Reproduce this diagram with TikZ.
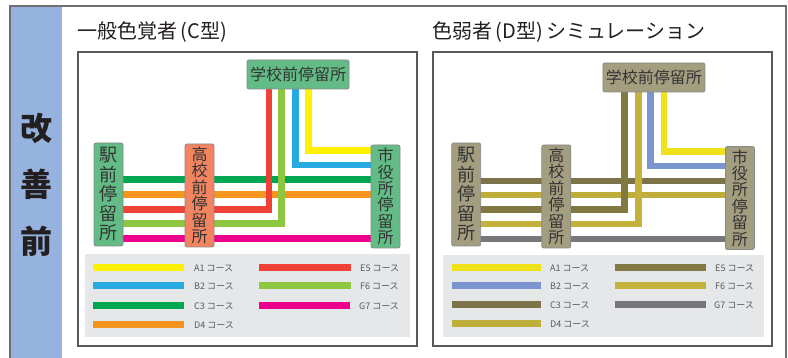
\documentclass[tikz,border=0pt]{standalone}
\usepackage{fontspec}
\setmainfont{Noto Sans CJK JP}
\definecolor{framegray}{HTML}{6D6E71}
\definecolor{panelgray}{HTML}{58595B}
\definecolor{band}{HTML}{95B3DE}
\definecolor{ngreen}{HTML}{63BC85}
\definecolor{nsalmon}{HTML}{F28462}
\definecolor{nkhaki}{HTML}{A39E80}
\definecolor{nborder}{HTML}{8A8A8A}
\definecolor{txt}{HTML}{231F20}
\definecolor{ntxt}{HTML}{333333}
\definecolor{legbg}{HTML}{E6E7E8}
\definecolor{legtxt}{HTML}{58595B}
% C-type
\definecolor{cA}{HTML}{FFF200}
\definecolor{cB}{HTML}{27AAE1}
\definecolor{cC}{HTML}{00A650}
\definecolor{cD}{HTML}{F7941D}
\definecolor{cE}{HTML}{EF4136}
\definecolor{cF}{HTML}{8DC63F}
\definecolor{cG}{HTML}{EC008C}
% D-type
\definecolor{dA}{HTML}{F0E21A}
\definecolor{dB}{HTML}{7A95D0}
\definecolor{dC}{HTML}{7C7349}
\definecolor{dD}{HTML}{BFAF3A}
\definecolor{dE}{HTML}{817842}
\definecolor{dF}{HTML}{C4B23C}
\definecolor{dG}{HTML}{77777B}
\tikzset{
  stopbox/.style={draw=nborder, line width=0.8pt, rounded corners=2pt, inner sep=0pt, text=ntxt, align=center},
  hstop/.style={stopbox, minimum width=102pt, minimum height=29pt, font=\fontsize{16}{16}\selectfont},
  vstopfive/.style={stopbox, minimum width=29pt, minimum height=103pt, font=\fontsize{18}{19.5}\selectfont},
  vstopsix/.style={stopbox, minimum width=29pt, minimum height=103pt, font=\fontsize{16}{16.4}\selectfont},
  route/.style={line width=6.5pt, line join=miter},
  swatch/.style={line width=6.5pt},
  leglabel/.style={anchor=west, inner sep=0pt, text=legtxt, font=\fontsize{9}{9}\selectfont},
  paneltitle/.style={anchor=west, inner sep=0pt, text=txt, font=\fontsize{20}{20}\selectfont},
  panelbox/.style={draw=panelgray, line width=1.3pt},
  bigchar/.style={text=txt, font=\fontsize{32}{32}\selectfont\bfseries, inner sep=0pt}
}
\begin{document}
\begin{tikzpicture}[x=1pt,y=-1pt]
\useasboundingbox (0,0) rectangle (788,358);
\fill[white] (0,0) rectangle (788,358);
% outer frame and band
\fill[band] (10,6) rectangle (62,358);
\draw[framegray, line width=1.3pt] (10,358) -- (10,6) -- (786,6) -- (786,358);
\node[bigchar] (kai) at (36,128) {改};
\node[bigchar] (zen) at (36,184) {善};
\node[bigchar] (mae) at (36,241) {前};

% ===== Left panel =====
\draw[panelbox] (78,52) rectangle (417,346);
\node[paneltitle] (t1) at (77,32) {一般色覚者\,(C型)};
% coordinates
\coordinate (lyA) at (0,150.3);
\coordinate (lyB) at (0,165);
\coordinate (lyC) at (0,179.3);
\coordinate (lyD) at (0,194.3);
\coordinate (lyE) at (0,209.3);
\coordinate (lyF) at (0,223.3);
\coordinate (lyG) at (0,238.3);
\coordinate (lxE) at (269,0);
\coordinate (lxF) at (281.7,0);
\coordinate (lxB) at (295.7,0);
\coordinate (lxA) at (308.3,0);
\coordinate (g1c) at (298,74.5);
\coordinate (e1c) at (108.5,194.5);
\coordinate (k1c) at (199.5,195.5);
\coordinate (s1c) at (385.5,196.5);
% routes
\draw[route, cC] (e1c |- lyC) -- (s1c |- lyC);
\draw[route, cD] (e1c |- lyD) -- (s1c |- lyD);
\draw[route, cG] (e1c |- lyG) -- (s1c |- lyG);
\draw[route, cE] (g1c -| lxE) |- (e1c |- lyE);
\draw[route, cF] (g1c -| lxF) |- (e1c |- lyF);
\draw[route, cB] (g1c -| lxB) |- (s1c |- lyB);
\draw[route, cA] (g1c -| lxA) |- (s1c |- lyA);
% stops
\node[hstop, fill=ngreen] (g1) at (g1c) {学校前停留所};
\node[vstopfive, fill=ngreen] (e1) at (e1c) {駅\\前\\停\\留\\所};
\node[vstopsix, fill=nsalmon] (k1) at (k1c) {高\\校\\前\\停\\留\\所};
\node[vstopsix, fill=ngreen] (s1) at (s1c) {市\\役\\所\\停\\留\\所};
% legend
\fill[legbg] (85,254) rectangle (410,337);
\draw[swatch, cA] (93,267.3) -- (184,267.3);
\draw[swatch, cB] (93,285.3) -- (184,285.3);
\draw[swatch, cC] (93,305.7) -- (184,305.7);
\draw[swatch, cD] (93,324.3) -- (184,324.3);
\draw[swatch, cE] (259,267.3) -- (351,267.3);
\draw[swatch, cF] (259,285.3) -- (351,285.3);
\draw[swatch, cG] (259,305.7) -- (350,305.7);
\node[leglabel] (la1) at (194,268) {A1 コース};
\node[leglabel] (lb1) at (194,286) {B2 コース};
\node[leglabel] (lc1) at (194,306) {C3 コース};
\node[leglabel] (ld1) at (194,325) {D4 コース};
\node[leglabel] (le1) at (360,268) {E5 コース};
\node[leglabel] (lf1) at (360,286) {F6 コース};
\node[leglabel] (lg1) at (359,306) {G7 コース};

% ===== Right panel =====
\draw[panelbox] (433,52) rectangle (772,346);
\node[paneltitle] (t2) at (432,32) {色弱者\,(D型)\,シミュレーション};
\coordinate (ryA) at (0,151.7);
\coordinate (ryB) at (0,166);
\coordinate (ryC) at (0,181);
\coordinate (ryD) at (0,195);
\coordinate (ryE) at (0,209.3);
\coordinate (ryF) at (0,224);
\coordinate (ryG) at (0,239);
\coordinate (rxE) at (624.3,0);
\coordinate (rxF) at (638.3,0);
\coordinate (rxB) at (650.5,0);
\coordinate (rxA) at (664,0);
\coordinate (g2c) at (653.9,77.5);
\coordinate (e2c) at (466.2,194.5);
\coordinate (k2c) at (556.3,196.5);
\coordinate (s2c) at (739.9,198);
\draw[route, dC] (e2c |- ryC) -- (s2c |- ryC);
\draw[route, dD] (e2c |- ryD) -- (s2c |- ryD);
\draw[route, dG] (e2c |- ryG) -- (s2c |- ryG);
\draw[route, dE] (g2c -| rxE) |- (e2c |- ryE);
\draw[route, dF] (g2c -| rxF) |- (e2c |- ryF);
\draw[route, dB] (g2c -| rxB) |- (s2c |- ryB);
\draw[route, dA] (g2c -| rxA) |- (s2c |- ryA);
\node[hstop, fill=nkhaki] (g2) at (g2c) {学校前停留所};
\node[vstopfive, fill=nkhaki] (e2) at (e2c) {駅\\前\\停\\留\\所};
\node[vstopsix, fill=nkhaki] (k2) at (k2c) {高\\校\\前\\停\\留\\所};
\node[vstopsix, fill=nkhaki] (s2) at (s2c) {市\\役\\所\\停\\留\\所};
\fill[legbg] (443,255) rectangle (764,337);
\draw[swatch, dA] (452,267.3) -- (541,267.3);
\draw[swatch, dB] (452,285.3) -- (541,285.3);
\draw[swatch, dC] (452,304.7) -- (541,304.7);
\draw[swatch, dD] (452,323.7) -- (541,323.7);
\draw[swatch, dE] (615,267.3) -- (705.7,267.3);
\draw[swatch, dF] (615,285.3) -- (705.7,285.3);
\draw[swatch, dG] (615,304.7) -- (705.7,304.7);
\node[leglabel] (la2) at (550,268) {A1 コース};
\node[leglabel] (lb2) at (550,286) {B2 コース};
\node[leglabel] (lc2) at (550,305) {C3 コース};
\node[leglabel] (ld2) at (550,324) {D4 コース};
\node[leglabel] (le2) at (715,268) {E5 コース};
\node[leglabel] (lf2) at (715,286) {F6 コース};
\node[leglabel] (lg2) at (714,305) {G7 コース};
\end{tikzpicture}
\end{document}
